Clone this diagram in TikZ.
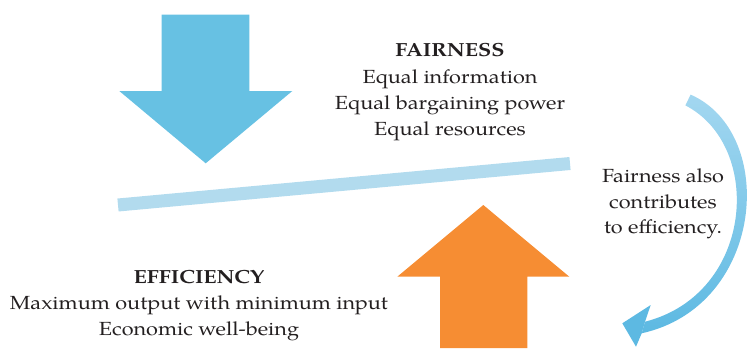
\documentclass[tikz,border=0pt]{standalone}
\usepackage{fontspec}
\setmainfont{TeX Gyre Pagella}[FakeStretch=1.14]
\definecolor{downblue}{HTML}{67C1E3}
\definecolor{barblue}{HTML}{B2DBEE}
\definecolor{uporange}{HTML}{F68D33}
\definecolor{curvetop}{HTML}{A3D7F0}
\definecolor{curvebot}{HTML}{5DB9E2}
\definecolor{ink}{HTML}{231F20}
\begin{document}
\begin{tikzpicture}[x=1pt, y=-1pt]
	\tikzset{txt/.style={align=center, inner sep=0pt, anchor=north, text=ink, font=\fontsize{19}{26.3}\selectfont}};

	\useasboundingbox (0,0) rectangle (749,348);

	% arrows pushing on the bar
	\fill[downblue] (161.7,14.7) -- (249.3,14.7) -- (249.3,91) -- (292.3,91) -- (205.7,163.3) -- (119.3,91) -- (161.7,91) -- cycle;
	\fill[uporange] (440,348) -- (440,276.7) -- (397.3,276.7) -- (483.3,205) -- (569.3,276.7) -- (527.3,276.7) -- (527.3,348) -- cycle;

	\coordinate (l) at (118,205);
	\coordinate (r) at (570,163.5);
	\draw[barblue, line width=13pt] (l) -- (r);

	% curved arrow
	\shade[top color=curvetop, bottom color=curvebot] (690.6,94.6) .. controls (778,133) and (765,306) .. (641.7,333.3) -- (645,321.7) .. controls (754,294) and (764,146) .. (685.4,105.4) -- cycle;
	\fill[curvebot] (645,321.7) -- (650.7,305) -- (622.3,323.3) -- (636,346.7) -- (641.7,333.3) -- cycle;

	\node[txt] (fair) at (450,43.3) {\textbf{FAIRNESS}\\Equal information\\Equal bargaining power\\Equal resources};
	\node[txt, font=\fontsize{19}{26}\selectfont] (eff) at (199,270) {\textbf{EFFICIENCY}\\Maximum output with minimum input\\Economic well-being};
	\node[txt, font=\fontsize{19}{25.5}\selectfont] (also) at (663,169) {Fairness also\\contributes\\to efficiency.};
\end{tikzpicture}
\end{document}
